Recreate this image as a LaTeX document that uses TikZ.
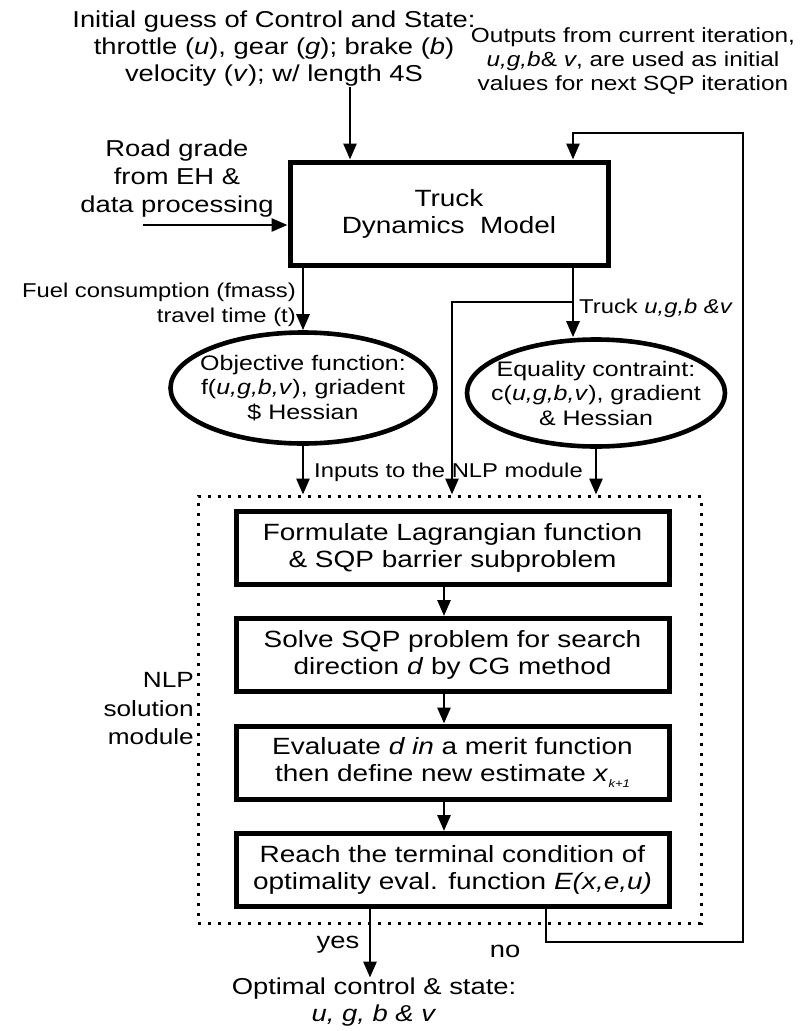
\documentclass[tikz,border=0pt]{standalone}
\usepackage{fontspec}
\setmainfont{Liberation Sans}[FakeStretch=1.19]
\usetikzlibrary{arrows.meta,positioning,shapes.geometric}

\begin{document}
\begin{tikzpicture}[x=1pt, y=-1pt,
  txt/.style={align=center, inner sep=0pt, font=\fontsize{23}{27}\selectfont},
  note/.style={align=center, inner sep=0pt, font=\fontsize{20}{25}\selectfont},
  block/.style={draw, line width=5pt, minimum width=433pt, minimum height=73pt,
    align=center, inner sep=0pt, font=\fontsize{23.5}{27}\selectfont},
  oval/.style={draw, ellipse, line width=4.6pt, inner sep=-20pt, align=center,
    font=\fontsize{21}{24.5}\selectfont},
  zone/.style={draw, line width=3pt, dash pattern=on 3pt off 7pt, inner sep=0pt},
  flow/.style={-{Triangle[length=16pt,width=13pt]}, line width=2.8pt}
]
\useasboundingbox (0,0) rectangle (800,1031);
\node[txt] (init) at (274,49) {Initial guess of Control and State:\\
  throttle (\textit{u}), gear (\textit{g}); brake (\textit{b})\\
  velocity (\textit{v}); w/ length 4S};
\node[note, font=\fontsize{20.5}{24}\selectfont] (outputs) at (633,61)
  {Outputs from current iteration,\\\textit{u,g,b}\& \textit{v}, are used as initial\\
  values for next SQP iteration};
\node[txt, font=\fontsize{23}{28}\selectfont] (road) at (177,179)
  {Road grade\\from EH \&\\data processing};
\node[block, minimum width=318pt, minimum height=103pt] (truck) at (449,213.5)
  {Truck\\Dynamics\ \ Model};
\node[oval, minimum width=265pt, minimum height=111pt] (objective) at (303,388)
  {Objective function:\\f(\textit{u,g,b,v}), griadent\\\$ Hessian};
\node[oval, minimum width=258pt, minimum height=107pt] (equality) at (596,393)
  {Equality contraint:\\c(\textit{u,g,b,v}), gradient\\\& Hessian};
\node[note, anchor=east, align=right] (fuel) at (296,305)
  {Fuel consumption (fmass)\\travel time (t)};
\node[note, anchor=base west] (truckout) at (579,313) {Truck \textit{u,g,b \&v}};
\node[note, anchor=base west] (inputs) at (314,477) {Inputs to the NLP module};
\node[zone, minimum width=503pt, minimum height=427pt] (nlp) at (449.5,709.5) {};
\node[txt, anchor=east, align=right, font=\fontsize{22}{28.5}\selectfont] (nlplabel)
  at (194,709) {NLP\\solution\\module};
\node[block] (formulate) at (452.5,547.5)
  {Formulate Lagrangian function\\\& SQP barrier subproblem};
\node[block, below=29.5pt of formulate] (solve)
  {Solve SQP problem for search\\direction \textit{d} by CG method};
\node[block, below=29.5pt of solve] (evaluate)
  {Evaluate \textit{d in} a merit function\\then define new estimate
  \textit{x}\raisebox{-6pt}{\fontsize{11}{11}\selectfont\itshape k+1}};
\node[block, below=29.5pt of evaluate] (reach)
  {Reach the terminal condition of\\optimality eval. function \textit{E(x,e,u)}};
\node[txt, anchor=base] (yes) at (338,948) {yes};
\node[txt, anchor=base] (no) at (505,957) {no};
\node[txt] (optimal) at (374,1002) {Optimal control \& state:\\\textit{u, g, b \& v}};
\coordinate (initx) at (350,0);
\coordinate (roadx) at (143,225);
\coordinate (fbx) at (573,133);
\coordinate (fbr) at (743,133);
\coordinate (split) at (573,302);
\coordinate (bx) at (452,302);
\coordinate (colx) at (444,0);
\coordinate (yesx) at (370,0);
\coordinate (nox) at (546,942);
\draw[flow] (init.south -| initx) -- (truck.north -| initx);
\draw[flow] (roadx) -- (roadx -| truck.west);
\draw[flow] (truck.south -| objective.north) -- (objective.north);
\draw[flow] (truck.south -| fbx) -- (equality.north -| fbx);
\draw[flow] (split) -- (bx) -- (bx |- nlp.north);
\draw[flow] (objective.south) -- (objective.south |- nlp.north);
\draw[flow] (equality.south) -- (equality.south |- nlp.north);
\foreach \a/\b in {formulate/solve, solve/evaluate, evaluate/reach}
  \draw[flow] (\a.south -| colx) -- (\b.north -| colx);
\draw[flow] (reach.south -| yesx) -- (optimal.north -| yesx);
\draw[flow] (reach.south -| nox) -- (nox) -- (nox -| fbr) -- (fbr) -- (fbx)
  -- (fbx |- truck.north);
\end{tikzpicture}
\end{document}
